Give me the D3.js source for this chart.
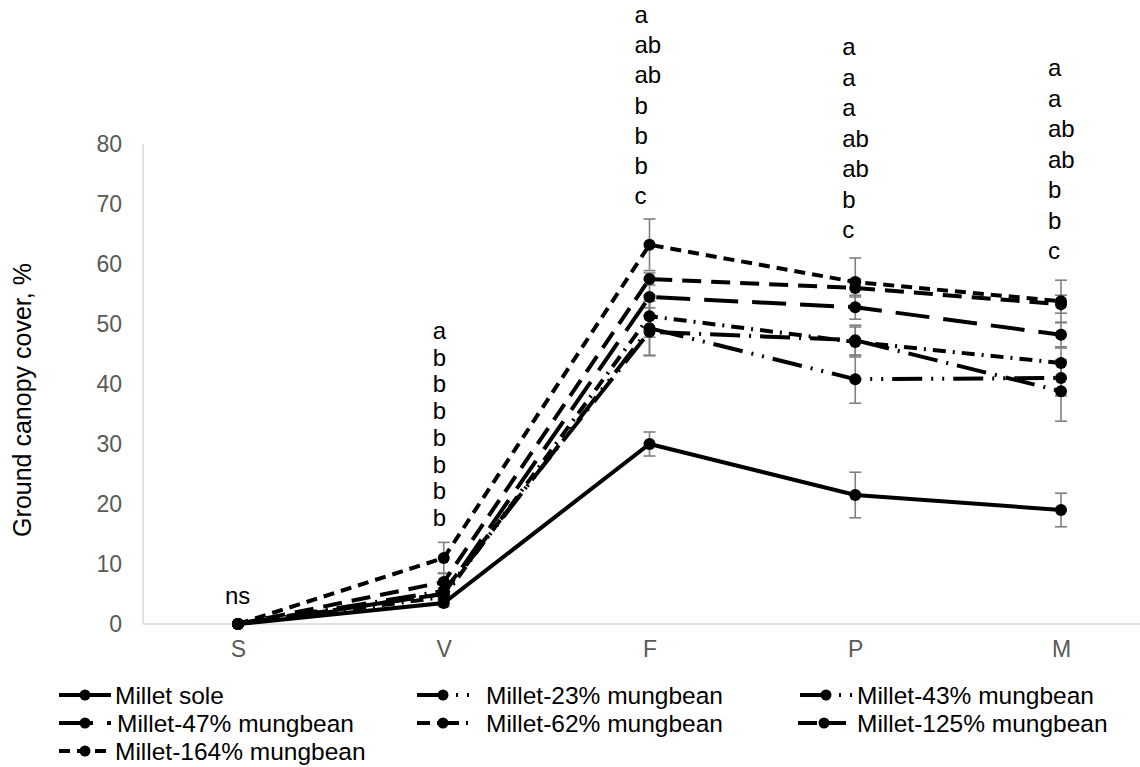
<!DOCTYPE html>
<html>
<head>
<meta charset="utf-8">
<script src="https://cdn.jsdelivr.net/npm/d3@7"></script>
<style>
  body { margin: 0; background: #fff; }
  svg { font-family: "Liberation Sans", Arial, sans-serif; }
</style>
</head>
<body>
<div id="chart"></div>
<script>
// growth stages
const stages = ["S", "V", "F", "P", "M"];
const yTicks = [0, 10, 20, 30, 40, 50, 60, 70, 80];

// ground canopy cover (%) per treatment
const millet_sole = [0, 3.5, 30, 21.5, 19];
const millet_23 = [0, 5, 49.3, 40.8, 41];
const millet_43 = [0, 5.5, 48.7, 47.3, 38.8];
const millet_47 = [0, 5, 54.5, 52.8, 48.2];
const millet_62 = [0, 4.5, 51.3, 47, 43.5];
const millet_125 = [0, 7, 57.5, 56, 53.3];
const millet_164 = [0, 11, 63.2, 57, 53.8];

// error bar half-widths
const err_sole = [0, 0.6, 2, 3.8, 2.8];
const err_23 = [0, 1, 4.5, 4, 3];
const err_43 = [0, 1, 4, 2.5, 5];
const err_47 = [0, 1, 3, 2, 2];
const err_62 = [0, 1, 3.5, 2.5, 2.5];
const err_125 = [0, 1.5, 1, 1.5, 1.5];
const err_164 = [0, 2.6, 4.3, 4, 3.5];

const seriesNames = [
  "Millet sole", "Millet-23% mungbean", "Millet-43% mungbean",
  "Millet-47% mungbean", "Millet-62% mungbean", "Millet-125% mungbean",
  "Millet-164% mungbean"
];

// significance letters above each stage
const letters_S = ["ns"];
const letters_V = ["a", "b", "b", "b", "b", "b", "b", "b"];
const letters_F = ["a", "ab", "ab", "b", "b", "b", "c"];
const letters_P = ["a", "a", "a", "ab", "ab", "b", "c"];
const letters_M = ["a", "a", "ab", "ab", "b", "b", "c"];

const series = [
  { name: seriesNames[0], values: millet_sole, err: err_sole, dash: null },
  { name: seriesNames[1], values: millet_23, err: err_23, dash: "30,9,2,9,2,9" },
  { name: seriesNames[2], values: millet_43, err: err_43, dash: "30,9,2,9" },
  { name: seriesNames[3], values: millet_47, err: err_47, dash: "34,14" },
  { name: seriesNames[4], values: millet_62, err: err_62, dash: "13,7,2,7" },
  { name: seriesNames[5], values: millet_125, err: err_125, dash: "19,10" },
  { name: seriesNames[6], values: millet_164, err: err_164, dash: "11,7" }
];

const width = 1140, height = 767;
const svg = d3.select("#chart").append("svg")
  .attr("width", width).attr("height", height);

const x = d3.scalePoint().domain(stages).range([238, 1061]);
const y = d3.scaleLinear().domain([0, 80]).range([624, 144]);

// axes lines
svg.append("line")
  .attr("x1", 143).attr("x2", 143)
  .attr("y1", y(80)).attr("y2", y(0))
  .attr("stroke", "#d9d9d9").attr("stroke-width", 1.5);
svg.append("line")
  .attr("x1", 143).attr("x2", 1140)
  .attr("y1", y(0)).attr("y2", y(0))
  .attr("stroke", "#d9d9d9").attr("stroke-width", 1.5);

// y tick labels
const yAxis = svg.append("g")
  .attr("transform", "translate(143,0)")
  .call(d3.axisLeft(y).tickValues(yTicks).tickSize(0).tickPadding(21));
yAxis.select(".domain").remove();
yAxis.selectAll("text")
  .attr("font-size", 23).attr("fill", "#595959")
  .attr("font-family", "Liberation Sans, Arial, sans-serif");

// x tick labels
const xAxis = svg.append("g")
  .attr("transform", `translate(0,${y(0)})`)
  .call(d3.axisBottom(x).tickSize(0).tickPadding(17));
xAxis.select(".domain").remove();
xAxis.selectAll("text")
  .attr("font-size", 23).attr("fill", "#595959")
  .attr("font-family", "Liberation Sans, Arial, sans-serif");

// y axis title
svg.append("text")
  .attr("transform", `translate(31,${(y(0) + y(80)) / 2 + 16}) rotate(-90)`)
  .attr("text-anchor", "middle")
  .attr("font-size", 25)
  .text("Ground canopy cover, %");

// error bars
const eg = svg.append("g").attr("stroke", "#808080").attr("stroke-width", 1.6);
series.forEach((s) => {
  s.values.forEach((v, i) => {
    const e = s.err[i];
    if (!e) return;
    const cx = x(stages[i]);
    eg.append("line").attr("x1", cx).attr("x2", cx)
      .attr("y1", y(v - e)).attr("y2", y(v + e));
    [v - e, v + e].forEach((t) => {
      eg.append("line").attr("x1", cx - 6).attr("x2", cx + 6)
        .attr("y1", y(t)).attr("y2", y(t));
    });
  });
});

// lines
const line = d3.line()
  .x((d, i) => x(stages[i]))
  .y((d) => y(d));

const lg = svg.append("g");
series.forEach((s) => {
  lg.append("path")
    .datum(s.values)
    .attr("d", line)
    .attr("fill", "none")
    .attr("stroke", "#000")
    .attr("stroke-width", 4)
    .attr("stroke-dasharray", s.dash);
  lg.selectAll(null)
    .data(s.values)
    .join("circle")
    .attr("cx", (d, i) => x(stages[i]))
    .attr("cy", (d) => y(d))
    .attr("r", 6)
    .attr("fill", "#000");
});

// significance letters
const letterSets = [
  { stage: "S", list: letters_S, top: 604, step: 0, dx: -13 },
  { stage: "V", list: letters_V, top: 339, step: 26.7, dx: -11 },
  { stage: "F", list: letters_F, top: 23, step: 30.2, dx: -15 },
  { stage: "P", list: letters_P, top: 55, step: 30.5, dx: -13 },
  { stage: "M", list: letters_M, top: 76, step: 30.5, dx: -13 }
];
letterSets.forEach((ls) => {
  svg.append("g")
    .selectAll("text")
    .data(ls.list)
    .join("text")
    .attr("x", x(ls.stage) + ls.dx)
    .attr("y", (d, i) => ls.top + i * ls.step)
    .attr("font-size", 24)
    .attr("fill", "#000")
    .text((d) => d);
});

// legend
const legendPos = [
  { sx: 59, tx: 115, y: 695 },
  { sx: 417, tx: 486, y: 695 },
  { sx: 800, tx: 857, y: 695 },
  { sx: 59, tx: 117, y: 723 },
  { sx: 417, tx: 486, y: 723 },
  { sx: 798, tx: 857, y: 723 },
  { sx: 59, tx: 115, y: 751 }
];
const leg = svg.append("g");
series.forEach((s, i) => {
  const p = legendPos[i];
  leg.append("line")
    .attr("x1", p.sx).attr("x2", p.sx + 52)
    .attr("y1", p.y).attr("y2", p.y)
    .attr("stroke", "#000").attr("stroke-width", 4)
    .attr("stroke-dasharray", s.dash);
  leg.append("circle")
    .attr("cx", p.sx + 26).attr("cy", p.y).attr("r", 5.5)
    .attr("fill", "#000");
  leg.append("text")
    .attr("x", p.tx).attr("y", p.y + 8.5)
    .attr("font-size", 24.5)
    .text(s.name);
});
</script>
</body>
</html>
